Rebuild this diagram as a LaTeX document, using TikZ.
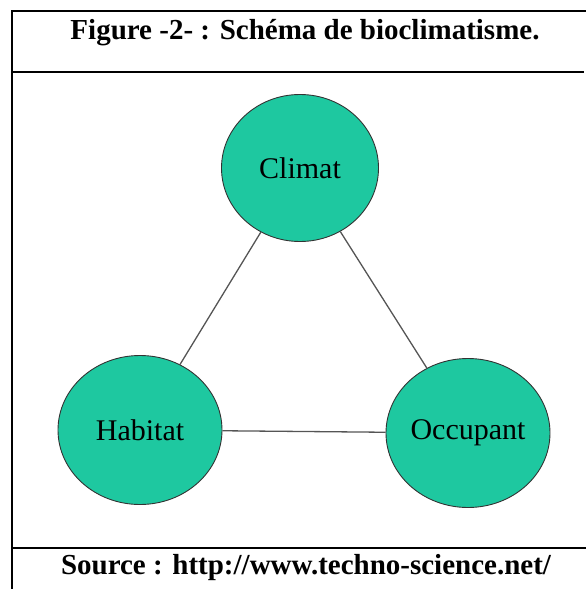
\documentclass[tikz,border=0pt]{standalone}
\usepackage{fontspec}
\setmainfont{Liberation Serif}
\usetikzlibrary{shapes.geometric}
\definecolor{turquoise}{RGB}{30,200,160}
\definecolor{trait}{RGB}{85,85,85}
\begin{document}
\begin{tikzpicture}[x=1pt,y=-1pt,
  cadre/.style={line width=2pt,black},
  bulle/.style={ellipse,draw=black!80,line width=0.9pt,fill=turquoise,inner sep=0pt,
    minimum width=164pt,minimum height=149pt,font=\fontsize{30}{34}\selectfont},
  lien/.style={trait,line width=1.3pt},
  legende/.style={font=\bfseries\fontsize{29}{35}\selectfont}]

\useasboundingbox (0,0) rectangle (586,589);

\draw[cadre] (586,11) -- (12,11) -- (12,589);
\draw[cadre] (12,72) -- (584,72);
\draw[cadre] (12,548) -- (586,548);

\node[legende] (titre) at (305,33) {Figure -2- : Schéma de bioclimatisme.};
\node[legende] (source) at (306,568) {Source : http://www.techno-science.net/};

\node[bulle,minimum width=157pt,minimum height=147pt] (climat) at (300,168) {Climat};
\node[bulle] (habitat) at (140,430) {Habitat};
\node[bulle] (occupant) at (468,433) {Occupant};

\draw[lien] (climat) -- (habitat);
\draw[lien] (climat) -- (occupant);
\draw[lien] (habitat) -- (occupant);

\end{tikzpicture}
\end{document}
